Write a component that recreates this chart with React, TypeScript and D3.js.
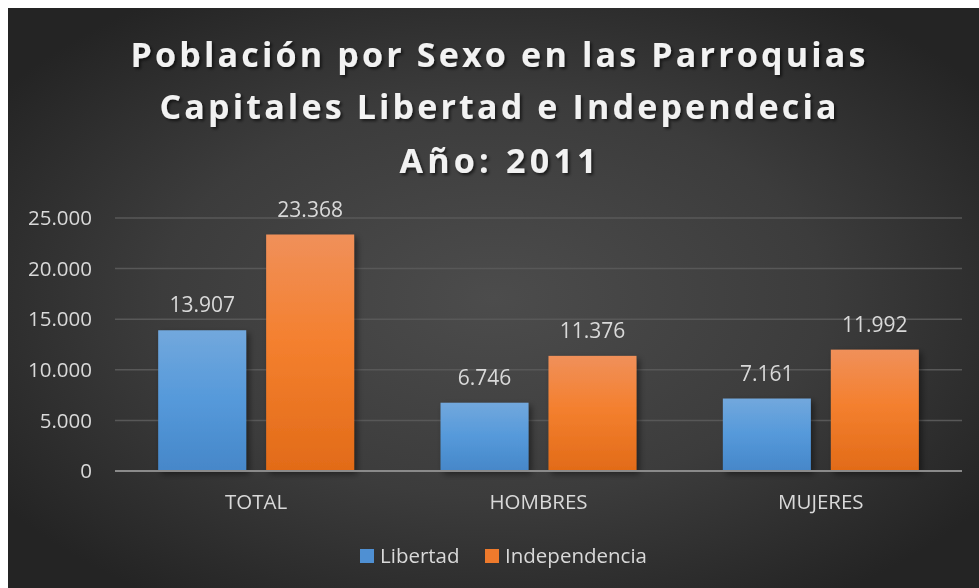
import React from "react";
import * as d3 from "d3";

const categories = ["TOTAL", "HOMBRES", "MUJERES"];
const seriesNames = ["Libertad", "Independencia"];
const libertad = [13907, 6746, 7161];
const independencia = [23368, 11376, 11992];
const yTicks = [0, 5000, 10000, 15000, 20000, 25000];
const titleLines = [
  "Población por Sexo en las Parroquias",
  "Capitales Libertad e Independecia",
  "Año: 2011",
];

const W = 971;
const H = 580;
const FONT = "'Open Sans', 'Noto Sans', sans-serif";

const fmt = (v: number) => d3.format(",")(v).replace(/,/g, ".");

export default function App() {
  const x = d3
    .scaleBand<string>()
    .domain(categories)
    .range([107, 954])
    .paddingInner(0.306)
    .paddingOuter(0.153);
  const xs = d3
    .scaleBand<string>()
    .domain(seriesNames)
    .range([0, x.bandwidth()])
    .paddingInner(0.185);
  const y = d3.scaleLinear().domain([0, 25000]).range([463, 210]);

  const data = [libertad, independencia];
  const fills = ["url(#gBlue)", "url(#gOrange)"];
  const legendFill = ["#4f90d3", "#ee7a2c"];

  const titleLens = [735, 677, 197];
  const titleBase = [59, 111, 165];

  return (
    <svg
      width={W}
      height={H}
      style={{ display: "block", position: "fixed", left: 8, top: 8 }}
    >
      <defs>
        <radialGradient id="bg" cx="50%" cy="50%" r="62%">
          <stop offset="0%" stopColor="#4c4c4c" />
          <stop offset="55%" stopColor="#3c3c3c" />
          <stop offset="100%" stopColor="#242424" />
        </radialGradient>
        <linearGradient id="gBlue" x1="0" y1="0" x2="0" y2="1">
          <stop offset="0%" stopColor="#72a8dd" />
          <stop offset="50%" stopColor="#5599da" />
          <stop offset="100%" stopColor="#4687c9" />
        </linearGradient>
        <linearGradient id="gOrange" x1="0" y1="0" x2="0" y2="1">
          <stop offset="0%" stopColor="#f0905a" />
          <stop offset="45%" stopColor="#f4802f" />
          <stop offset="100%" stopColor="#e26b18" />
        </linearGradient>
        <filter id="barShadow" x="-20%" y="-20%" width="140%" height="140%">
          <feDropShadow dx="3" dy="3" stdDeviation="3" floodColor="#000" floodOpacity="0.45" />
        </filter>
        <filter id="textShadow" x="-10%" y="-30%" width="120%" height="160%">
          <feDropShadow dx="2" dy="2" stdDeviation="1.6" floodColor="#000" floodOpacity="0.6" />
        </filter>
      </defs>
      <rect x={0} y={0} width={W} height={H} fill="url(#bg)" />

      {titleLines.map((t, i) => (
        <text
          key={t}
          x={490}
          y={titleBase[i]}
          textAnchor="middle"
          fontFamily={FONT}
          fontWeight={700}
          fontSize={34}
          fill="#f2f2f2"
          textLength={titleLens[i]}
          lengthAdjust="spacing"
          filter="url(#textShadow)"
        >
          {t}
        </text>
      ))}

      {yTicks.map((t) => (
        <g key={t}>
          {t > 0 && (
            <line x1={107} x2={954} y1={y(t)} y2={y(t)} stroke="#585858" strokeWidth={1.5} />
          )}
          <text
            x={84}
            y={y(t)}
            dy="0.35em"
            textAnchor="end"
            fontFamily={FONT}
            fontSize={20.5}
            fill="#d9d9d9"
          >
            {fmt(t)}
          </text>
        </g>
      ))}

      {categories.map((c, ci) => (
        <g key={c}>
          {seriesNames.map((s, si) => {
            const v = data[si][ci];
            const bx = (x(c) as number) + (xs(s) as number);
            return (
              <g key={s}>
                <rect
                  x={bx}
                  y={y(v)}
                  width={xs.bandwidth()}
                  height={y(0) - y(v)}
                  fill={fills[si]}
                  filter="url(#barShadow)"
                />
                <text
                  x={bx + xs.bandwidth() / 2}
                  y={y(v) - 18}
                  textAnchor="middle"
                  fontFamily={FONT}
                  fontSize={21}
                  fill="#d9d9d9"
                >
                  {fmt(v)}
                </text>
              </g>
            );
          })}
          <text
            x={(x(c) as number) + x.bandwidth() / 2}
            y={501}
            textAnchor="middle"
            fontFamily={FONT}
            fontSize={20.5}
            fill="#d9d9d9"
          >
            {c}
          </text>
        </g>
      ))}

      <line x1={107} x2={954} y1={y(0)} y2={y(0)} stroke="#8a8a8a" strokeWidth={2} />

      {seriesNames.map((s, i) => {
        const lx = [352, 477][i];
        return (
          <g key={s}>
            <rect x={lx} y={541} width={14} height={14} fill={legendFill[i]} />
            <text x={lx + 20} y={555} fontFamily={FONT} fontSize={20.5} fill="#d9d9d9">
              {s}
            </text>
          </g>
        );
      })}
    </svg>
  );
}
